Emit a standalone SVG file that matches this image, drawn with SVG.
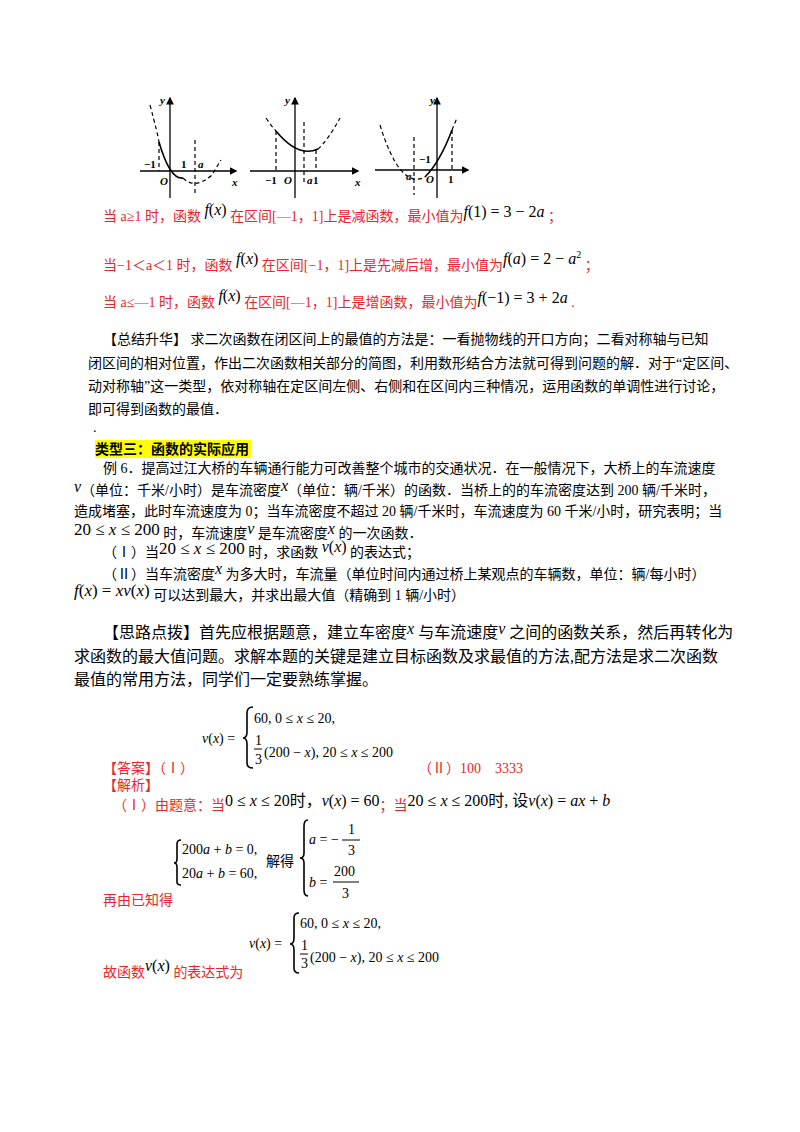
<svg xmlns="http://www.w3.org/2000/svg" width="800" height="1132" viewBox="0 0 800 1132">
<style>
text{font-family:"Liberation Serif","Noto Sans CJK SC",serif;font-size:14px;fill:#000}
.r{fill:#e8262b}
.m{font-family:"Liberation Serif",serif;font-style:italic}
.ax{stroke:#000;stroke-width:1.3;fill:none}
.d{stroke:#000;stroke-width:1.2;stroke-dasharray:4 3;fill:none}
.s{stroke:#000;stroke-width:1.6;fill:none}
.gl{font-family:"Liberation Serif",serif;font-size:11px;font-weight:bold}
.big{font-size:16px}
</style>
<defs><marker id="ar" markerWidth="6" markerHeight="6" refX="5" refY="3" orient="auto"><path d="M0,0L6,3L0,6z"/></marker></defs>
<g id="graph1">
<line class="ax" x1="140" y1="171" x2="236" y2="171" marker-end="url(#ar)"/>
<line class="ax" x1="170" y1="198" x2="170" y2="98" marker-end="url(#ar)"/>
<path class="d" d="M150,105 Q158,135 159,142"/>
<path class="s" d="M159,142 Q170,180 183,178"/>
<path class="d" d="M183,178 Q195,190 212,175 L221,160"/>
<line class="d" x1="159" y1="142" x2="159" y2="171"/><line class="d" x1="195" y1="140" x2="195" y2="196"/>
<text class="gl" x="144" y="168">−1</text><text class="gl" x="181" y="168">1</text><text class="gl m" x="198" y="168">a</text>
<text class="gl m" x="160" y="185">O</text><text class="gl m" x="232" y="186">x</text><text class="gl m" x="160" y="104">y</text>
</g>
<g id="graph2">
<line class="ax" x1="250" y1="171" x2="358" y2="171" marker-end="url(#ar)"/>
<line class="ax" x1="295" y1="198" x2="295" y2="98" marker-end="url(#ar)"/>
<path class="d" d="M266,118 Q272,127 276,131"/>
<path class="s" d="M276,131 Q298,158 318,149"/>
<path class="d" d="M318,149 Q328,140 340,118"/>
<line class="d" x1="276" y1="131" x2="276" y2="171"/><line class="d" x1="304" y1="122" x2="304" y2="182"/><line class="d" x1="316" y1="150" x2="316" y2="171"/>
<text class="gl" x="265" y="184">−1</text><text class="gl m" x="284" y="184">O</text><text class="gl m" x="307" y="184">a</text><text class="gl" x="313" y="184">1</text>
<text class="gl m" x="355" y="186">x</text><text class="gl m" x="285" y="104">y</text>
</g>
<g id="graph3">
<line class="ax" x1="375" y1="170" x2="468" y2="170" marker-end="url(#ar)"/>
<line class="ax" x1="437" y1="198" x2="437" y2="98" marker-end="url(#ar)"/>
<path class="d" d="M380,125 Q400,190 425,177"/>
<path class="s" d="M425,177 Q440,162 452,130"/>
<path class="d" d="M452,130 L457,118"/>
<line class="d" x1="414" y1="137" x2="414" y2="195"/><line class="d" x1="452" y1="130" x2="452" y2="171"/>
<text class="gl" x="419" y="163">−1</text><text class="gl m" x="406" y="180">a</text><text class="gl m" x="426" y="183">O</text><text class="gl" x="448" y="183">1</text>
<text class="gl m" x="430" y="104">y</text>
</g>
<g id="cases">
<text class="r" x="103" y="221">当 a≥1 时，函数 <tspan class="m" fill="#000" font-size="16" dy="-6">f</tspan><tspan fill="#000" font-size="16">(</tspan><tspan class="m" fill="#000" font-size="16">x</tspan><tspan fill="#000" font-size="16">)</tspan><tspan dy="6"> 在区间[—1，1]上是减函数，最小值为</tspan><tspan fill="#000" font-size="16" dy="-4"><tspan class="m">f</tspan>(1) = 3 − 2<tspan class="m">a</tspan></tspan><tspan dy="4"> ；</tspan></text>
<text class="r" x="103" y="270">当−1＜a＜1 时，函数 <tspan class="m" fill="#000" font-size="16" dy="-6">f</tspan><tspan fill="#000" font-size="16">(</tspan><tspan class="m" fill="#000" font-size="16">x</tspan><tspan fill="#000" font-size="16">)</tspan><tspan dy="6"> 在区间[−1，1]上是先减后增，最小值为</tspan><tspan fill="#000" font-size="16" dy="-6"><tspan class="m">f</tspan>(<tspan class="m">a</tspan>) = 2 − <tspan class="m">a</tspan><tspan font-size="10" dy="-6">2</tspan></tspan><tspan dy="12"> ；</tspan></text>
<text class="r" x="103" y="307">当 a≤—1 时，函数 <tspan class="m" fill="#000" font-size="16" dy="-6">f</tspan><tspan fill="#000" font-size="16">(</tspan><tspan class="m" fill="#000" font-size="16">x</tspan><tspan fill="#000" font-size="16">)</tspan><tspan dy="6"> 在区间[—1，1]上是增函数，最小值为</tspan><tspan fill="#000" font-size="16" dy="-4"><tspan class="m">f</tspan>(−1) = 3 + 2<tspan class="m">a</tspan></tspan><tspan dy="4"> .</tspan></text>
</g>
<g id="summary">
<text x="103" y="344">【总结升华】 求二次函数在闭区间上的最值的方法是：一看抛物线的开口方向；二看对称轴与已知</text>
<text x="88" y="368">闭区间的相对位置，作出二次函数相关部分的简图，利用数形结合方法就可得到问题的解．对于“定区间、</text>
<text x="88" y="391">动对称轴”这一类型，依对称轴在定区间左侧、右侧和在区间内三种情况，运用函数的单调性进行讨论，</text>
<text x="88" y="414">即可得到函数的最值．</text>
<text x="93" y="432">.</text>
</g>
<g id="example">
<rect x="95" y="440" width="156" height="18" fill="#ffff00"/>
<text x="95" y="454" font-weight="bold">类型三：函数的实际应用</text>
<text x="103" y="473">例 6．提高过江大桥的车辆通行能力可改善整个城市的交通状况．在一般情况下，大桥上的车流速度</text>
<text x="74" y="495"><tspan class="m" font-size="16" dy="-3">v</tspan><tspan dy="3">（单位：千米/小时）是车流密度</tspan><tspan class="m" font-size="16" dy="-4">x</tspan><tspan dy="4">（单位：辆/千米）的函数．当桥上的的车流密度达到 200 辆/千米时，</tspan></text>
<text x="74" y="516">造成堵塞，此时车流速度为 0；当车流密度不超过 20 辆/千米时，车流速度为 60 千米/小时，研究表明；当</text>
<text x="74" y="535"><tspan font-size="17">20 ≤ <tspan class="m">x</tspan> ≤ 200</tspan><tspan dy="3"> 时，车流速度</tspan><tspan class="m" font-size="16" dy="-4">v</tspan><tspan dy="4"> 是车流密度</tspan><tspan class="m" font-size="16" dy="-4">x</tspan><tspan dy="4"> 的一次函数．</tspan></text>
<text x="103" y="557">（Ⅰ）当<tspan font-size="17" dy="-3">20 ≤ <tspan class="m">x</tspan> ≤ 200</tspan><tspan dy="3"> 时，求函数 </tspan><tspan font-size="16" dy="-5"><tspan class="m">v</tspan>(<tspan class="m">x</tspan>)</tspan><tspan dy="5"> 的表达式；</tspan></text>
<text x="103" y="579">（Ⅱ）当车流密度<tspan class="m" font-size="16" dy="-5">x</tspan><tspan dy="5"> 为多大时，车流量（单位时间内通过桥上某观点的车辆数，单位：辆/每小时）</tspan></text>
<text x="74" y="596"><tspan font-size="17"><tspan class="m">f</tspan>(<tspan class="m">x</tspan>) = <tspan class="m">xv</tspan>(<tspan class="m">x</tspan>)</tspan><tspan dy="4"> 可以达到最大，并求出最大值（精确到 1 辆/小时）</tspan></text>
</g>
<g id="thought">
<text class="big" x="103" y="638">【思路点拨】首先应根据题意，建立车密度<tspan class="m" dy="-4">x</tspan><tspan dy="4"> 与车流速度</tspan><tspan class="m" dy="-4">v</tspan><tspan dy="4"> 之间的函数关系，然后再转化为</tspan></text>
<text class="big" x="74" y="662">求函数的最大值问题。求解本题的关键是建立目标函数及求最值的方法,配方法是求二次函数</text>
<text class="big" x="74" y="685">最值的常用方法，同学们一定要熟练掌握。</text>
</g>
<g id="answer">
<text x="202" y="743" font-size="16"><tspan class="m">v</tspan>(<tspan class="m">x</tspan>) =</text>
<path class="s" stroke-width="1" d="M253,707 Q247,707 247,713 L247,732 Q247,738 243,738 Q247,738 247,744 L247,763 Q247,768 253,768"/>
<text x="254" y="723" font-size="16">60, 0 ≤ <tspan class="m">x</tspan> ≤ 20,</text>
<text x="255" y="745" font-size="14">1</text><line x1="254" y1="749" x2="262" y2="749" stroke="#000"/><text x="255" y="764" font-size="14">3</text>
<text x="264" y="757" font-size="16">(200 − <tspan class="m">x</tspan>), 20 ≤ <tspan class="m">x</tspan> ≤ 200</text>
<text class="r" x="103" y="773">【答案】（Ⅰ）</text>
<text class="r" x="418" y="773">（Ⅱ）100　3333</text>
<text class="r" x="103" y="790">【解析】</text>
<text class="r" x="113" y="810">（Ⅰ）由题意：当<tspan fill="#000" font-size="16" dy="-4">0 ≤ <tspan class="m">x</tspan> ≤ 20时，<tspan class="m">v</tspan>(<tspan class="m">x</tspan>) = 60</tspan><tspan dy="4">；当</tspan><tspan fill="#000" font-size="16" dy="-4">20 ≤ <tspan class="m">x</tspan> ≤ 200时, 设<tspan class="m">v</tspan>(<tspan class="m">x</tspan>) = <tspan class="m">ax</tspan> + <tspan class="m">b</tspan></tspan></text>
<path class="s" stroke-width="1" d="M181,840 Q177,840 177,844 L177,859 Q177,863 174,863 Q177,863 177,867 L177,882 Q177,885 181,885"/>
<text x="182" y="854" font-size="16">200<tspan class="m">a</tspan> + <tspan class="m">b</tspan> = 0,</text>
<text x="182" y="878" font-size="16">20<tspan class="m">a</tspan> + <tspan class="m">b</tspan> = 60,</text>
<text x="266" y="866" font-size="15">解得</text>
<path class="s" stroke-width="1" d="M308,820 Q304,820 304,826 L304,853 Q304,858 300,858 Q304,858 304,863 L304,890 Q304,896 308,896"/>
<text x="309" y="844" font-size="16"><tspan class="m">a</tspan> = −</text>
<text x="348" y="834" font-size="14">1</text><line x1="342" y1="840" x2="360" y2="840" stroke="#000"/><text x="348" y="855" font-size="14">3</text>
<text x="309" y="887" font-size="16"><tspan class="m">b</tspan> =</text>
<text x="334" y="876" font-size="14">200</text><line x1="333" y1="882" x2="359" y2="882" stroke="#000"/><text x="342" y="898" font-size="14">3</text>
<text class="r" x="103" y="905">再由已知得</text>
<text x="249" y="948" font-size="16"><tspan class="m">v</tspan>(<tspan class="m">x</tspan>) =</text>
<path class="s" stroke-width="1" d="M299,913 Q294,913 294,918 L294,938 Q294,944 290,944 Q294,944 294,950 L294,968 Q294,973 299,973"/>
<text x="300" y="928" font-size="16">60, 0 ≤ <tspan class="m">x</tspan> ≤ 20,</text>
<text x="301" y="950" font-size="14">1</text><line x1="300" y1="954" x2="308" y2="954" stroke="#000"/><text x="301" y="968" font-size="14">3</text>
<text x="310" y="962" font-size="16">(200 − <tspan class="m">x</tspan>), 20 ≤ <tspan class="m">x</tspan> ≤ 200</text>
<text class="r" x="103" y="977">故函数<tspan fill="#000" font-size="16" dy="-6"><tspan class="m">v</tspan>(<tspan class="m">x</tspan>)</tspan><tspan dy="6"> 的表达式为</tspan></text>
</g>
</svg>
